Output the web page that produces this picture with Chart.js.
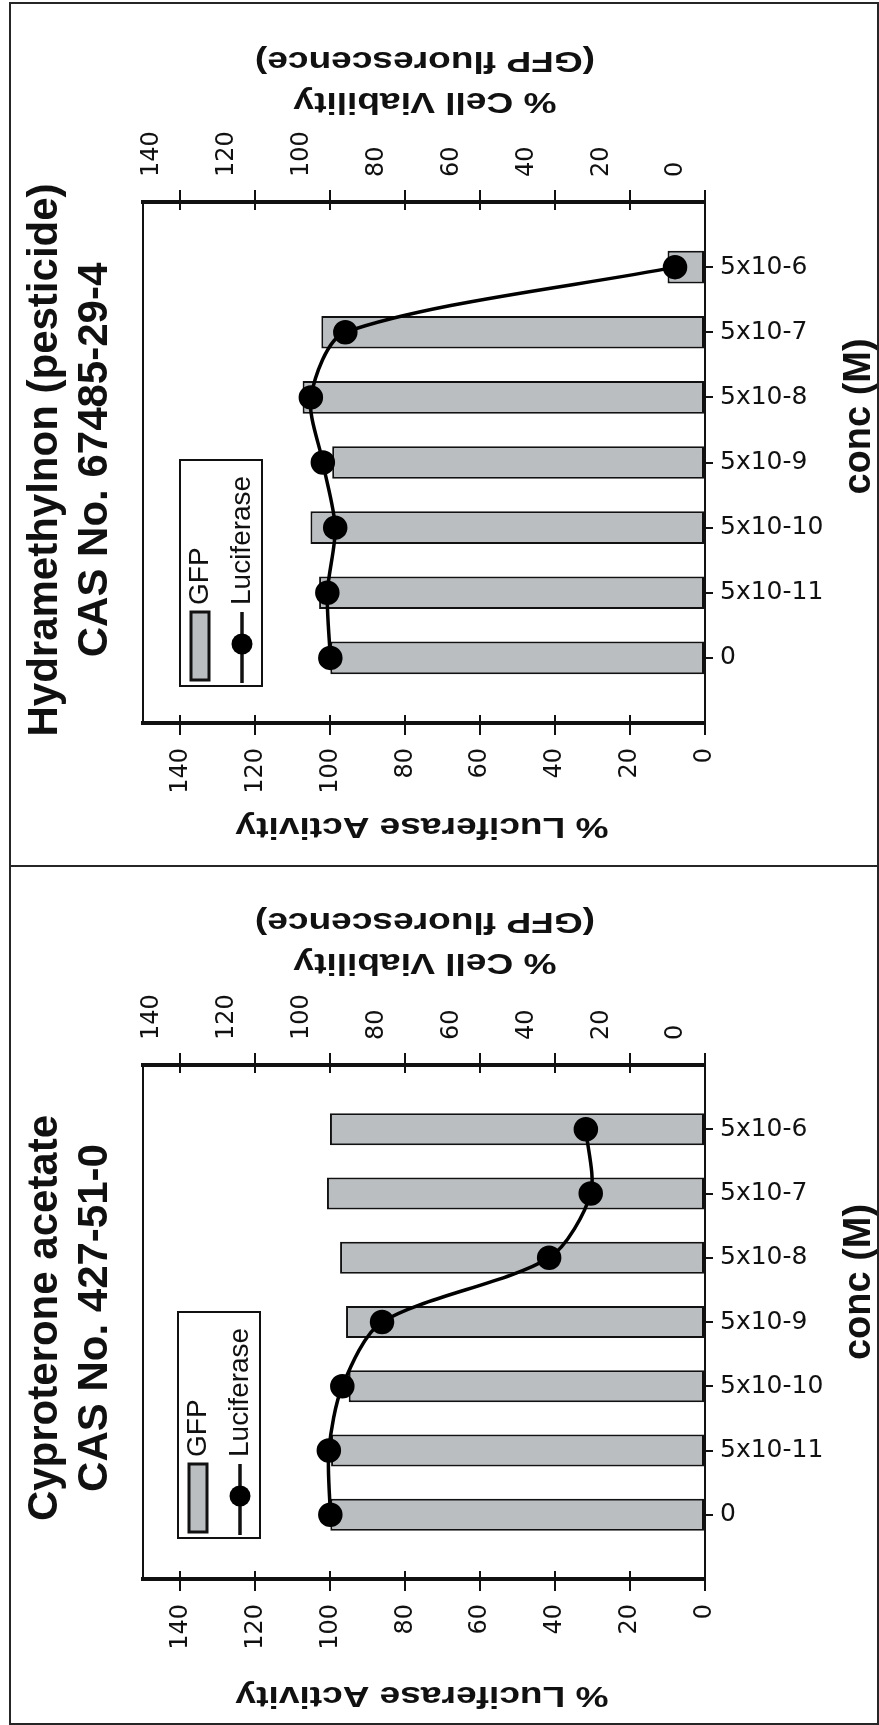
<!DOCTYPE html>
<html>
<head>
<meta charset="utf-8">
<script src="https://cdn.jsdelivr.net/npm/chart.js@4.4.1/dist/chart.umd.min.js"></script>
<style>
  html, body { margin: 0; padding: 0; background: #fff; }
  #page { position: relative; width: 879px; height: 1725px; overflow: hidden; }
  .panel { position: absolute; left: 0; }
  #frame { position: absolute; left: 9px; top: 2px; right: 0; bottom: 0; border: 2px solid #262626; box-sizing: border-box; pointer-events: none; }
  #divider { position: absolute; left: 9px; right: 0; top: 865px; height: 2px; background: #262626; }
</style>
</head>
<body>
<div id="page">
  <canvas id="hydra" class="panel" width="879" height="865" style="top:0"></canvas>
  <canvas id="cypro" class="panel" width="879" height="858" style="top:867px"></canvas>
  <div id="frame"></div>
  <div id="divider"></div>
</div>
<script>
// data
const concLabels = ['0', '5x10-11', '5x10-10', '5x10-9', '5x10-8', '5x10-7', '5x10-6'];
const valueTicks = [0, 20, 40, 60, 80, 100, 120, 140];

const hydraGfp = [100, 103, 105.3, 99.5, 107.4, 102.4, 10];
const hydraLuc = [100, 100.8, 98.7, 102, 105.2, 96, 8];

const cyproGfp = [100, 99.8, 95.1, 95.8, 97.4, 100.9, 100.1];
const cyproLuc = [100, 100.4, 96.8, 86.2, 41.6, 30.5, 31.8];

const hydraTitle = ['Hydramethylnon (pesticide)', 'CAS No. 67485-29-4'];
const cyproTitle = ['Cyproterone acetate', 'CAS No. 427-51-0'];
const lucTitle = '% Luciferase Activity';
const gfpTitle = ['% Cell Viability', '(GFP fluorescence)'];
const concTitle = 'conc (M)';

const BOLD_FAMILY = '"Liberation Sans", Arial, Helvetica, sans-serif';
Chart.defaults.font.family = '"DejaVu Sans", sans-serif';
Chart.defaults.color = '#111';

// the scan is stretched along its horizontal text, hence sx
function drawTurned(ctx, text, x, y, angle, sx) {
    ctx.save();
    ctx.translate(x, y);
    ctx.rotate(angle);
    ctx.scale(sx || 1, 1);
    ctx.fillText(text, 0, 0);
    ctx.restore();
}

const axisTitles = {
    id: 'axisTitles',
    afterDraw(chart, args, opts) {
        const { ctx, chartArea: a } = chart;
        const mid = (a.left + a.right) / 2;
        ctx.save();
        ctx.fillStyle = '#111';
        ctx.textAlign = 'center';
        ctx.textBaseline = 'middle';
        ctx.font = 'bold 30px ' + BOLD_FAMILY;
        drawTurned(ctx, lucTitle, mid - 2, a.bottom + opts.bottomGap, Math.PI, 1.236);
        gfpTitle.forEach((t, i) => drawTurned(ctx, t, mid + 1, a.top - opts.topGap - i * 41, Math.PI, 1.236));
        ctx.font = 'bold 38px ' + BOLD_FAMILY;
        drawTurned(ctx, concTitle, a.right + 155, (a.top + a.bottom) / 2 + opts.concShift, -Math.PI / 2);

        // inner half of the value-axis tick marks
        ctx.strokeStyle = '#111';
        ctx.lineWidth = 2;
        ['x', 'x2'].forEach(id => {
            const s = chart.scales[id];
            const y0 = id === 'x' ? a.bottom : a.top;
            const dir = id === 'x' ? -1 : 1;
            s.ticks.forEach(t => {
                const px = Math.round(s.getPixelForValue(t.value));
                ctx.beginPath();
                ctx.moveTo(px, y0);
                ctx.lineTo(px, y0 + dir * 8);
                ctx.stroke();
            });
        });
        ctx.restore();
    }
};

const turnedLegend = {
    id: 'turnedLegend',
    afterDraw(chart, args, opts) {
        const { ctx, chartArea: a } = chart;
        const left = a.left + opts.left;
        const bottom = a.bottom - opts.bottom;
        const w = 82, h = 226;
        ctx.save();
        ctx.fillStyle = '#fff';
        ctx.fillRect(left, bottom - h, w, h);
        ctx.strokeStyle = '#111';
        ctx.lineWidth = 2;
        ctx.strokeRect(left, bottom - h, w, h);

        chart.data.datasets.forEach((ds, i) => {
            const x = left + 20 + i * 42;
            if (ds.type === 'bar') {
                ctx.fillStyle = ds.backgroundColor;
                ctx.fillRect(x - 9, bottom - 74, 18, 68);
                ctx.lineWidth = 3;
                ctx.strokeRect(x - 9, bottom - 74, 18, 68);
            } else {
                ctx.lineWidth = ds.borderWidth;
                ctx.beginPath();
                ctx.moveTo(x, bottom - 74);
                ctx.lineTo(x, bottom - 3);
                ctx.stroke();
                ctx.fillStyle = ds.pointBackgroundColor;
                ctx.beginPath();
                ctx.arc(x, bottom - 42, ds.pointRadius, 0, Math.PI * 2);
                ctx.fill();
            }
            ctx.fillStyle = '#111';
            ctx.font = '28px "Liberation Sans", Arial, sans-serif';
            ctx.textAlign = 'left';
            ctx.textBaseline = 'middle';
            ctx.save();
            ctx.translate(x, bottom - 81);
            ctx.rotate(-Math.PI / 2);
            ctx.fillText(ds.label, 0, 0);
            ctx.restore();
        });
        ctx.restore();
    }
};

function makeChart(id, title, gfp, luc, lay) {
    const valueAxis = (position) => ({
        type: 'linear',
        position: position,
        reverse: true,
        min: 0,
        max: 150,
        afterBuildTicks: s => { s.ticks = valueTicks.map(v => ({ value: v })); },
        afterFit: s => { s.height = position === 'top' ? lay.topH : lay.bottomH; },
        ticks: { minRotation: 90, maxRotation: 90, padding: 13, font: { size: 24 }, color: '#111' },
        grid: { drawOnChartArea: false, color: '#111', lineWidth: 2, tickLength: 12 },
        border: { color: '#111', width: 4 }
    });

    return new Chart(document.getElementById(id), {
        type: 'bar',
        data: {
            labels: concLabels.map((c, i) => i),
            datasets: [
                {
                    type: 'bar',
                    label: 'GFP',
                    data: gfp,
                    xAxisID: 'x2',
                    yAxisID: 'y',
                    backgroundColor: '#babec1',
                    borderColor: '#111',
                    borderWidth: 2,
                    borderSkipped: false,
                    categoryPercentage: 1,
                    barPercentage: 0.5,
                    order: 1
                },
                {
                    type: 'line',
                    label: 'Luciferase',
                    data: luc,
                    xAxisID: 'x',
                    yAxisID: 'y',
                    borderColor: '#000',
                    borderWidth: 3.5,
                    tension: 0.28,
                    pointRadius: 10.5,
                    pointBackgroundColor: '#000',
                    pointBorderColor: '#000',
                    order: 0
                }
            ]
        },
        options: {
            indexAxis: 'y',
            responsive: false,
            animation: false,
            layout: { padding: { top: lay.padTop, left: 0, right: 0, bottom: 0 } },
            scales: {
                x: valueAxis('bottom'),
                x2: valueAxis('top'),
                y: {
                    type: 'linear',
                    position: 'right',
                    offset: false,
                    min: -1,
                    max: 7,
                    afterBuildTicks: s => { s.ticks = concLabels.map((c, i) => ({ value: i })); },
                    afterFit: s => { s.width = 174; },
                    ticks: { callback: v => concLabels[v], padding: 7, font: { size: 25 }, color: '#111' },
                    grid: { offset: false, drawOnChartArea: false, color: '#111', lineWidth: 2, tickLength: 8 },
                    border: { color: '#111', width: 2 }
                },
                yl: {
                    type: 'linear',
                    position: 'left',
                    offset: false,
                    min: -1,
                    max: 7,
                    ticks: { display: false },
                    grid: { display: false },
                    border: { color: '#111', width: 2 },
                    afterFit: s => { s.width = 22.2; }
                }
            },
            plugins: {
                legend: { display: false },
                tooltip: { enabled: false },
                title: {
                    display: true,
                    position: 'left',
                    text: title,
                    color: '#111',
                    font: { size: 42, weight: 'bold', family: BOLD_FAMILY },
                    padding: { top: 20, bottom: 0 }
                },
                axisTitles: { bottomGap: lay.bottomGap, topGap: lay.topGap, concShift: lay.concShift },
                turnedLegend: { left: lay.legLeft, bottom: lay.legBottom }
            }
        },
        plugins: [axisTitles, turnedLegend]
    });
}

makeChart('hydra', hydraTitle, hydraGfp, hydraLuc, {
    padTop: 55, topH: 147, bottomH: 142,
    bottomGap: 103, topGap: 101, concShift: -46, legLeft: 37, legBottom: 37
});
makeChart('cypro', cyproTitle, cyproGfp, cyproLuc, {
    padTop: 44, topH: 154, bottomH: 146,
    bottomGap: 116, topGap: 103, concShift: -40, legLeft: 35, legBottom: 41
});
</script>
</body>
</html>
